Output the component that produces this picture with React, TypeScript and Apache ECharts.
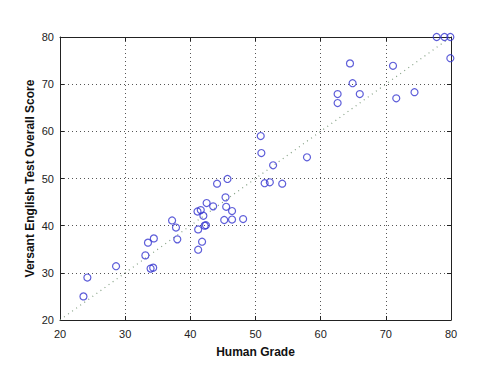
import React, { useEffect, useRef } from "react";
import * as echarts from "echarts";

const humanGrade = [
  23.6, 24.2, 28.6, 33.1, 33.5, 34.4, 33.9, 34.3, 37.2, 37.8, 38.0,
  41.1, 41.6, 42.5, 43.5, 42.0, 41.2, 42.2, 42.4, 41.8, 41.2,
  44.1, 45.7, 45.4, 45.5, 46.4, 45.2, 46.4, 48.1,
  51.4, 52.2, 54.1, 50.8, 50.9, 52.7, 57.9,
  62.6, 62.6, 64.5, 64.9, 66.0, 71.1, 71.6, 74.4,
  77.8, 79.0, 79.9, 79.9,
];
const versantScore = [
  25.0, 29.0, 31.4, 33.7, 36.4, 37.3, 30.9, 31.1, 41.1, 39.6, 37.1,
  43.0, 43.3, 44.8, 44.1, 42.1, 39.2, 40.0, 40.1, 36.6, 34.9,
  48.9, 49.9, 46.0, 44.0, 43.1, 41.2, 41.3, 41.4,
  49.0, 49.2, 48.9, 59.0, 55.4, 52.8, 54.5,
  67.9, 66.0, 74.4, 70.2, 67.9, 73.9, 67.0, 68.3,
  80.0, 80.0, 80.0, 75.5,
];
const refLine = [
  [20, 20],
  [80, 80],
];
const xLabel = "Human Grade";
const yLabel = "Versant English Test Overall Score";

export default function App() {
  const ref = useRef<HTMLDivElement>(null);
  useEffect(() => {
    if (!ref.current) return;
    const chart = echarts.init(ref.current, undefined, { renderer: "svg" });
    const font = "Liberation Sans, Arial, sans-serif";
    const gridStyle = { color: "#555", type: [1, 3] as any, width: 1 };
    const axisCommon = {
      min: 20,
      max: 80,
      interval: 10,
      axisLine: { show: true, onZero: false, lineStyle: { color: "#222", width: 1 } },
      axisTick: { show: true, inside: true, length: 4, lineStyle: { color: "#222" } },
      axisLabel: { color: "#222", fontSize: 11, fontFamily: font },
      splitLine: { show: false },
    };
    const data = humanGrade.map((x, i) => [x, versantScore[i]]);
    chart.setOption({
      animation: false,
      backgroundColor: "#fff",
      grid: { left: 60, right: 49, top: 37, bottom: 56, show: false },
      xAxis: [
        {
          ...axisCommon,
          type: "value",
          position: "bottom",
          name: xLabel,
          nameLocation: "middle",
          nameGap: 26,
          nameTextStyle: { color: "#111", fontSize: 12, fontWeight: "bold", fontFamily: font },
          axisLabel: { ...axisCommon.axisLabel, margin: 8 },
          splitLine: { show: true, lineStyle: gridStyle },
        },
        {
          ...axisCommon,
          type: "value",
          position: "top",
          axisLabel: { show: false },
        },
      ],
      yAxis: [
        {
          ...axisCommon,
          type: "value",
          position: "left",
          name: yLabel,
          nameLocation: "middle",
          nameGap: 24,
          nameMoveOverlap: false,
          nameRotate: 90,
          nameTextStyle: { color: "#111", fontSize: 12, fontWeight: "bold", fontFamily: font },
          axisLabel: { ...axisCommon.axisLabel, margin: 6 },
          splitLine: { show: true, lineStyle: gridStyle },
        },
        {
          ...axisCommon,
          type: "value",
          position: "right",
          axisLabel: { show: false },
        },
      ],
      series: [
        {
          type: "line",
          data: refLine,
          symbol: "none",
          lineStyle: { color: "#84a084", width: 1.2, type: [1, 4] },
          silent: true,
          z: 1,
        },
        {
          type: "scatter",
          data,
          symbol: "circle",
          symbolSize: 7,
          itemStyle: { color: "rgba(0,0,0,0)", borderColor: "#3535cf", borderWidth: 1.2 },
          z: 3,
        },
      ],
    });
    return () => chart.dispose();
  }, []);
  return <div ref={ref} style={{ width: 500, height: 376, marginLeft: -8, marginTop: -8 }} />;
}
